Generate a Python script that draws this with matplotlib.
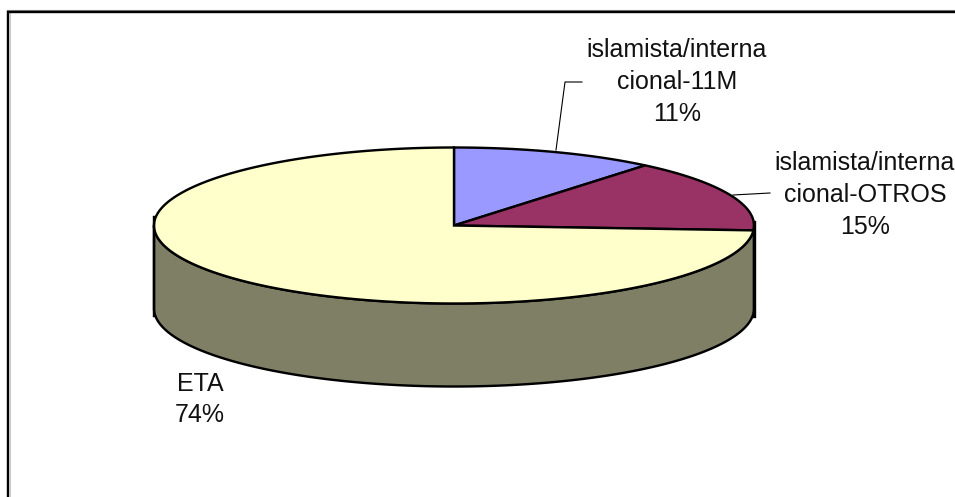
import numpy as np
import matplotlib
matplotlib.use("Agg")
import matplotlib.pyplot as plt
from matplotlib.patches import Polygon

categories = ["islamista/interna\ncional-11M", "islamista/interna\ncional-OTROS", "ETA"]
values = [11, 15, 74]
colors = ["#9999FF", "#993366", "#FFFFCC"]
wall_color = "#7F7F66"

# pie geometry, in pixels of the 955x497 picture
CX, CY = 454, 225.5
RX, RY = 300, 78
DEPTH = 83
EDGE = 2.4 / 1.389
TEXT = 18

plt.rcParams["font.family"] = ["Liberation Sans", "DejaVu Sans"]

fig = plt.figure(figsize=(9.55, 4.97), dpi=100)
ax = fig.add_axes([0, 0, 1, 1])
ax.set_xlim(0, 955)
ax.set_ylim(497, 0)
ax.axis("off")


def rim(t0, t1, dy=0.0):
    # angles run clockwise from 12 o'clock, in degrees
    t = np.radians(np.linspace(t0, t1, 300))
    return np.column_stack([CX + RX * np.sin(t), CY + dy - RY * np.cos(t)])


# side wall, front half only
front = np.vstack([rim(90, 270), rim(90, 270, DEPTH)[::-1]])
ax.add_patch(Polygon(front, closed=True, fc=wall_color, ec="black", lw=EDGE, zorder=1))

# top face
start = 0.0
for value, color in zip(values, colors):
    end = start + value * 360 / sum(values)
    pts = np.vstack([[CX, CY], rim(start, end)])
    ax.add_patch(Polygon(pts, closed=True, fc=color, ec="black", lw=EDGE,
                         joinstyle="miter", zorder=2))
    start = end

# the wall edges run straight down at both ends
ax.plot([154, 154], [217, 316], color="black", lw=EDGE, zorder=3)
ax.plot([753.5, 753.5], [222, 316], color="black", lw=EDGE * 1.4, zorder=3)

# leader lines
ax.plot([556, 565, 582], [150, 82, 82], color="black", lw=0.8, zorder=3)
ax.plot([733, 770], [195, 193], color="black", lw=0.8, zorder=3)

# labels
label_pos = [(677, 82), (865, 195), (200, 399.5)]
for name, value, (x, y) in zip(categories, values, label_pos):
    ax.text(x, y, f"{name}\n{value}%", ha="center", va="center", ma="center",
            fontsize=TEXT, linespacing=1.4, color="#111111", zorder=4)

# chart frame: only the top and left edges are inside the crop
ax.plot([9.8, 9.8], [13, 497], color="#c8c8c8", lw=0.8, zorder=0)
ax.plot([7, 955], [10.2, 10.2], color="#8a8a8a", lw=0.8, zorder=0)
ax.plot([8, 8, 955], [497, 12, 12], color="black", lw=EDGE,
        solid_joinstyle="miter", zorder=1)

fig.savefig("out.png", dpi=100)
